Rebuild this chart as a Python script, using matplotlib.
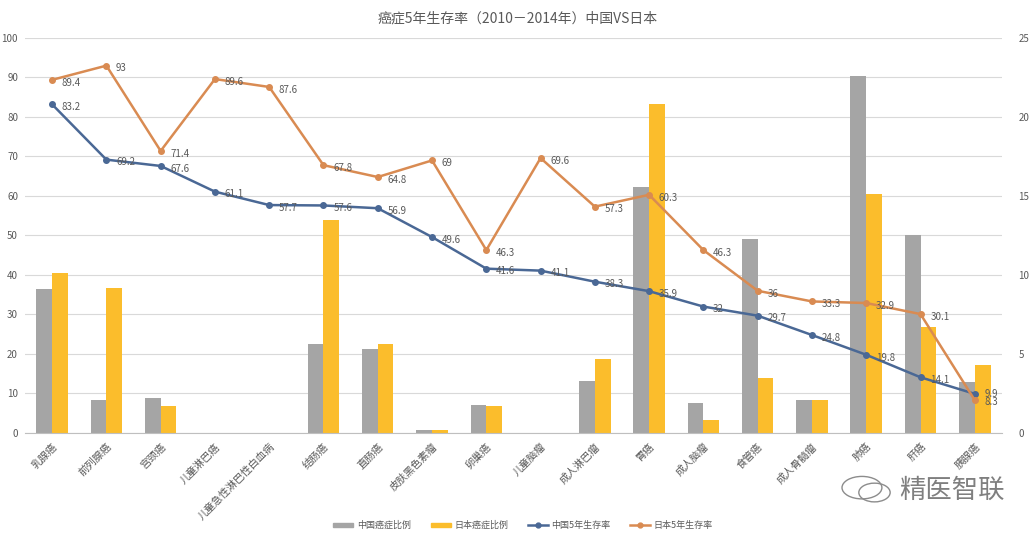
import numpy as np
import matplotlib
matplotlib.use("Agg")
import matplotlib.pyplot as plt
from matplotlib.lines import Line2D
from matplotlib.patches import Patch, Ellipse

plt.rcParams['font.family'] = ['Noto Sans CJK SC', 'DejaVu Sans']

categories = ["乳腺癌", "前列腺癌", "宫颈癌", "儿童淋巴癌", "儿童急性淋巴性白血病",
              "结肠癌", "直肠癌", "皮肤黑色素瘤", "卵巢癌", "儿童脑瘤", "成人淋巴瘤",
              "胃癌", "成人脑瘤", "食管癌", "成人骨髓瘤", "肺癌", "肝癌", "胰腺癌"]

# cancer share (right axis, %)
cn_ratio = [9.1, 2.1, 2.2, 0, 0, 5.6, 5.3, 0.2, 1.8, 0, 3.3,
            15.6, 1.9, 12.3, 2.1, 22.6, 12.5, 3.2]
jp_ratio = [10.1, 9.2, 1.7, 0, 0, 13.5, 5.6, 0.2, 1.7, 0, 4.7,
            20.8, 0.8, 3.5, 2.1, 15.1, 6.7, 4.3]

# 5-year survival (left axis, %)
cn_surv = [83.2, 69.2, 67.6, 61.1, 57.7, 57.6, 56.9, 49.6, 41.6, 41.1, 38.3,
           35.9, 32, 29.7, 24.8, 19.8, 14.1, 9.9]
jp_surv = [89.4, 93, 71.4, 89.6, 87.6, 67.8, 64.8, 69, 46.3, 69.6, 57.3,
           60.3, 46.3, 36, 33.3, 32.9, 30.1, 8.3]

gray = "#A5A5A5"
yellow = "#FBBD2C"
blue = "#4A6895"
orange = "#D98B52"
text_c = "#595959"

fig = plt.figure(figsize=(10.36, 5.35), dpi=100)
ax2 = fig.add_axes([0.0241, 0.1907, 0.943, 0.7383])   # bars, right scale
ax = ax2.twinx()                                       # lines, left scale
ax.yaxis.tick_left()
ax2.yaxis.tick_right()
ax.set_zorder(ax2.get_zorder() + 1)
ax.patch.set_visible(False)

x = np.arange(len(categories))
w = 0.29
ax2.bar(x - w / 2, cn_ratio, w, color=gray, label="中国癌症比例")
ax2.bar(x + w / 2, jp_ratio, w, color=yellow, label="日本癌症比例")
ax2.set_ylim(0, 25)
ax2.set_yticks(np.arange(0, 26, 5))
ax2.set_yticks(np.arange(0, 25.1, 2.5), minor=True)
ax2.grid(axis="y", which="both", color="#D9D9D9", linewidth=0.8)
ax2.set_axisbelow(True)
ax2.set_xlim(-0.5, len(categories) - 0.5)

ax.plot(x, cn_surv, color=blue, lw=1.8, marker="o", ms=4, label="中国5年生存率")
ax.plot(x, jp_surv, color=orange, lw=1.8, marker="o", ms=4, label="日本5年生存率")
ax.set_ylim(0, 100)
ax.set_yticks(np.arange(0, 101, 10))
last = len(categories) - 1
for i, (xi, v) in enumerate(zip(x, cn_surv)):
    dy = 0 if i == last else -2
    ax.annotate(f"{v:g}", (xi, v), xytext=(7, dy), textcoords="offset points",
                fontsize=7, color=text_c, va="center", ha="left")
for i, (xi, v) in enumerate(zip(x, jp_surv)):
    dy = -1 if i == last else -2
    ax.annotate(f"{v:g}", (xi, v), xytext=(7, dy), textcoords="offset points",
                fontsize=7, color=text_c, va="center", ha="left")

for a in (ax, ax2):
    for s in a.spines.values():
        s.set_visible(False)
    a.tick_params(axis="both", which="both", length=0, labelsize=7, colors=text_c)
ax2.spines["bottom"].set_visible(True)
ax2.spines["bottom"].set_color("#BFBFBF")
ax2.tick_params(axis="y", pad=12)
ax.tick_params(axis="y", pad=5)

ax2.set_xticks(x)
ax2.set_xticklabels(categories, rotation=45, ha="right", rotation_mode="anchor",
                    fontsize=7.5, color=text_c)
ax2.tick_params(axis="x", pad=6)

fig.text(0.5, 0.965, "癌症5年生存率（2010－2014年）中国VS日本", ha="center", va="center",
         fontsize=10, color=text_c)

handles = [Patch(color=gray), Patch(color=yellow),
           Line2D([], [], color=blue, marker="o", ms=3.5, lw=1.8),
           Line2D([], [], color=orange, marker="o", ms=3.5, lw=1.8)]
labels = ["中国癌症比例", "日本癌症比例", "中国5年生存率", "日本5年生存率"]
fig.legend(handles, labels, loc="center", bbox_to_anchor=(0.505, 0.018), ncol=4,
           frameon=False, fontsize=6.5, labelcolor=text_c, handlelength=2.2,
           handleheight=0.35, columnspacing=2.2, handletextpad=0.4)

# watermark
fig.text(0.868, 0.083, "精医智联", fontsize=19, color="#7F7F7F", va="center", ha="left")
wm = fig.add_axes([0.81, 0.05, 0.055, 0.07])
wm.axis("off")
wm.set_xlim(0, 1)
wm.set_ylim(0, 1)
wm.add_patch(Ellipse((0.4, 0.55), 0.7, 0.6, fill=False, ec="#8C8C8C", lw=1))
wm.add_patch(Ellipse((0.62, 0.42), 0.55, 0.5, fill=False, ec="#8C8C8C", lw=1, fc="white"))

fig.savefig("out.png", dpi=100)
